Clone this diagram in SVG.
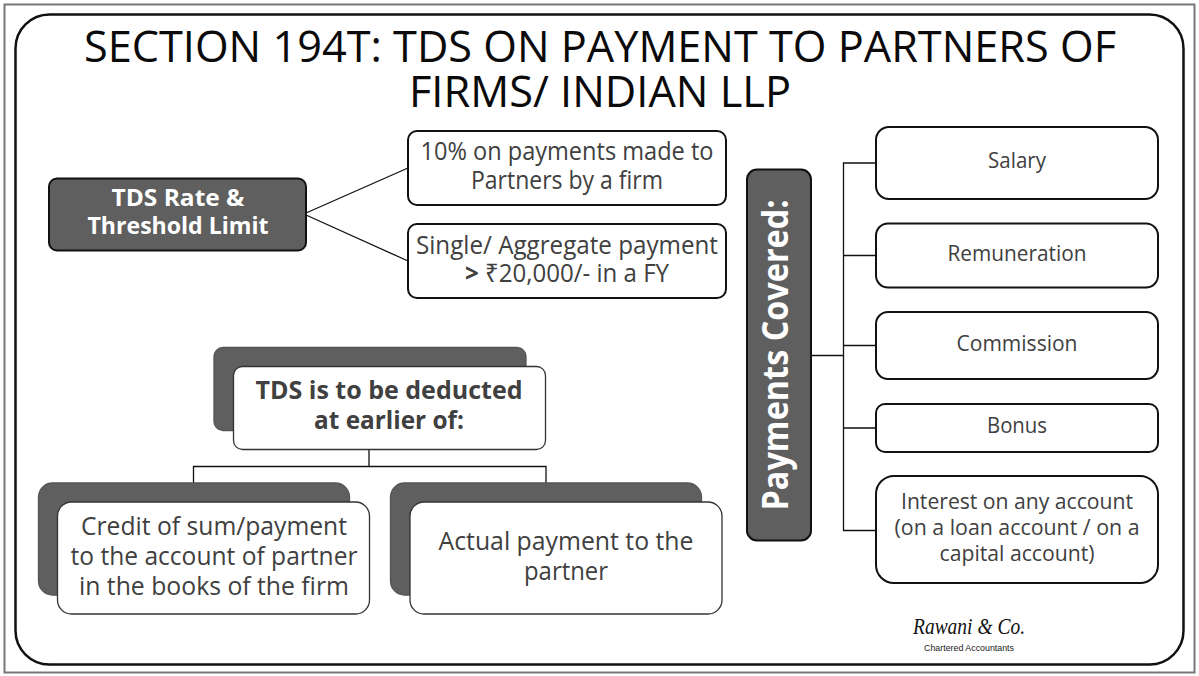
<svg xmlns="http://www.w3.org/2000/svg" width="1199" height="676" viewBox="0 0 1199 676">
<style>
text{font-family:"Open Sans","Noto Sans","Liberation Sans",sans-serif;text-anchor:middle}
.t{font-size:44px;fill:#0a0a0a}
.l{font-size:25px;fill:#404040}
.m{font-size:21.5px;fill:#404040}
.b{font-weight:700;fill:#fff}
.box{fill:#fff;stroke:#111;stroke-width:2}
.thin{fill:#fff;stroke:#333;stroke-width:1.3}
.dark{fill:#5f5f5f;stroke:#111;stroke-width:2}
.back{fill:#5f5f5f;stroke:#555;stroke-width:1.3}
.c{fill:none;stroke:#111;stroke-width:1.3}
</style>
<rect width="1199" height="676" fill="#fff"/>
<rect x="4.500" y="4.500" width="1190" height="668" fill="#fff" stroke="#777" stroke-width="2"/>
<rect id="frame" x="15.500" y="14.500" width="1168" height="650" rx="34" fill="#fff" stroke="#111" stroke-width="2.500"/>
<g id="title"><text class="t" x="600" y="62" textLength="1032" lengthAdjust="spacingAndGlyphs">SECTION 194T: TDS ON PAYMENT TO PARTNERS OF</text><text class="t" x="600" y="107" textLength="382" lengthAdjust="spacingAndGlyphs">FIRMS/ INDIAN LLP</text></g>
<g id="connectors">
<path class="c" d="M306 213L408 168M306 215L408 261"/>
<path class="c" d="M369 450V466M193.500 483V466.500H546V483"/>
<path class="c" d="M811 355.500H843.500M876 163H843.500V530.500H876M843.500 255.500H876M843.500 345.500H876M843.500 428H876"/>
</g>
<g id="n-rate"><rect class="dark" x="49" y="178.500" width="257" height="72" rx="8"/><text class="b" font-size="24" x="178" y="206" textLength="133" lengthAdjust="spacingAndGlyphs">TDS Rate &amp;</text><text class="b" font-size="24" x="178" y="234" textLength="181" lengthAdjust="spacingAndGlyphs">Threshold Limit</text></g>
<g id="n-rate1"><rect class="box" x="408" y="131" width="318" height="74" rx="9"/><text class="l" x="567" y="160" textLength="293" lengthAdjust="spacingAndGlyphs">10% on payments made to</text><text class="l" x="567" y="189" textLength="192" lengthAdjust="spacingAndGlyphs">Partners by a firm</text></g>
<g id="n-rate2"><rect class="box" x="408" y="224" width="318" height="74" rx="9"/><text class="l" x="567" y="254" textLength="302" lengthAdjust="spacingAndGlyphs">Single/ Aggregate payment</text><text class="l" x="567" y="282" textLength="204" lengthAdjust="spacingAndGlyphs"><tspan font-weight="700">&gt;</tspan> ₹20,000/- in a FY</text></g>
<g id="n-deduct"><rect class="back" x="214" y="347.500" width="312" height="83" rx="9"/><rect class="thin" x="233.500" y="366.500" width="312" height="83" rx="9"/><text class="l" font-weight="700" x="389" y="399" textLength="267" lengthAdjust="spacingAndGlyphs">TDS is to be deducted</text><text class="l" font-weight="700" x="389" y="429" textLength="150" lengthAdjust="spacingAndGlyphs">at earlier of:</text></g>
<g id="n-credit"><rect class="back" x="38.500" y="483" width="311" height="112" rx="14"/><rect class="thin" x="57.500" y="502" width="312" height="112" rx="14"/><text class="l" x="214" y="535" textLength="266" lengthAdjust="spacingAndGlyphs">Credit of sum/payment</text><text class="l" x="214" y="565" textLength="287" lengthAdjust="spacingAndGlyphs">to the account of partner</text><text class="l" x="214" y="595" textLength="270" lengthAdjust="spacingAndGlyphs">in the books of the firm</text></g>
<g id="n-actual"><rect class="back" x="390.500" y="483" width="311" height="112" rx="14"/><rect class="thin" x="410" y="502" width="312" height="112" rx="14"/><text class="l" x="566" y="550" textLength="255" lengthAdjust="spacingAndGlyphs">Actual payment to the</text><text class="l" x="566" y="580" textLength="84" lengthAdjust="spacingAndGlyphs">partner</text></g>
<g id="n-covered"><rect class="dark" x="747" y="169.500" width="64" height="371" rx="10"/><text class="b" font-size="36" transform="translate(788 355) rotate(-90)" textLength="311" lengthAdjust="spacingAndGlyphs">Payments Covered:</text></g>
<g id="n-salary"><rect class="box" x="876" y="127" width="282" height="72" rx="13"/><text class="m" x="1017" y="168" textLength="58" lengthAdjust="spacingAndGlyphs">Salary</text></g>
<g id="n-remuneration"><rect class="box" x="876" y="223.500" width="282" height="64" rx="12"/><text class="m" x="1017" y="261" textLength="139" lengthAdjust="spacingAndGlyphs">Remuneration</text></g>
<g id="n-commission"><rect class="box" x="876" y="312" width="282" height="67" rx="12"/><text class="m" x="1017" y="351" textLength="121" lengthAdjust="spacingAndGlyphs">Commission</text></g>
<g id="n-bonus"><rect class="box" x="876" y="404" width="282" height="48" rx="9"/><text class="m" x="1017" y="433" textLength="60" lengthAdjust="spacingAndGlyphs">Bonus</text></g>
<g id="n-interest"><rect class="box" x="876" y="476" width="282" height="107" rx="18"/><text class="m" x="1017" y="509" textLength="232" lengthAdjust="spacingAndGlyphs">Interest on any account</text><text class="m" x="1017" y="535" textLength="245" lengthAdjust="spacingAndGlyphs">(on a loan account / on a</text><text class="m" x="1017" y="561" textLength="155" lengthAdjust="spacingAndGlyphs">capital account)</text></g>
<g id="brand"><text style="font-family:'Liberation Serif',serif" font-style="italic" font-size="23" fill="#111" x="969" y="634" textLength="112" lengthAdjust="spacingAndGlyphs">Rawani &amp; Co.</text><text style="font-family:'Liberation Sans',sans-serif" font-size="9" fill="#222" x="969" y="651" textLength="90" lengthAdjust="spacingAndGlyphs">Chartered Accountants</text></g>
</svg>
